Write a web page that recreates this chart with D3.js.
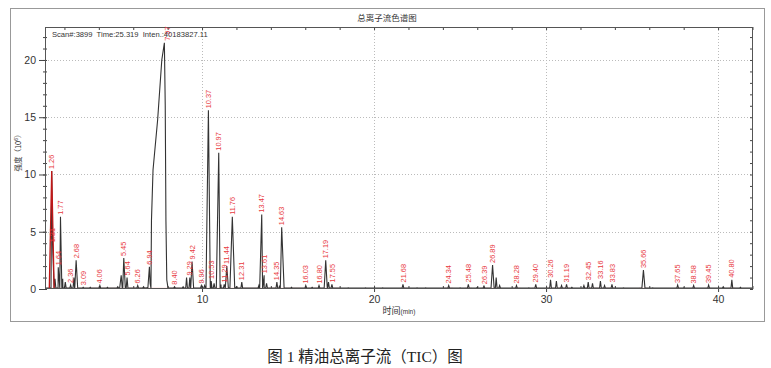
<!DOCTYPE html>
<html>
<head>
<meta charset="utf-8">
<script src="https://cdn.jsdelivr.net/npm/d3@7"></script>
<style>
  body { margin: 0; background: #fff; }
  text { font-family: "Liberation Sans", Arial, "Noto Sans CJK SC", sans-serif; }
</style>
</head>
<body>
<div id="chart"></div>
<script>
// Labelled peaks: retention time (min) and intensity (x10^6)
const peakTimes = [1.26, 1.31, 1.64, 1.77, 2.36, 2.68, 3.09, 4.06, 5.45, 5.64, 6.26, 6.94, 7.97, 8.40, 9.29, 9.42, 9.96,
  10.37, 10.53, 10.97, 11.29, 11.44, 11.76, 12.31, 13.47, 13.61, 14.35, 14.63, 16.03, 16.80, 17.19, 17.55, 21.68, 24.34,
  25.48, 26.39, 26.89, 28.28, 29.40, 30.26, 31.19, 32.45, 33.16, 33.83, 35.66, 37.65, 38.58, 39.45, 40.80];
const peakHeights = [10.3, 3.9, 1.9, 6.3, 0.35, 2.5, 0.15, 0.3, 2.7, 1.0, 0.3, 1.95, 21.5, 0.2, 1.0, 2.4, 0.3,
  15.6, 0.7, 11.9, 0.4, 2.0, 6.3, 0.6, 6.5, 1.2, 0.6, 5.4, 0.3, 0.3, 2.5, 0.4, 0.4, 0.3,
  0.4, 0.25, 2.1, 0.3, 0.4, 0.8, 0.4, 0.6, 0.7, 0.4, 1.65, 0.35, 0.3, 0.35, 0.8];
const peakLabels = peakTimes.map((t) => t.toFixed(2));

// Small unlabelled peaks along the baseline
const minorTimes = [1.45, 1.90, 2.05, 2.55, 3.50, 4.50, 5.10, 5.30, 6.60, 8.90, 9.10, 10.15, 10.70, 11.10, 12.00, 13.30,
  13.75, 14.50, 15.20, 16.40, 17.35, 18.50, 19.50, 20.50, 22.50, 23.00, 25.00, 26.00, 27.10, 27.30, 29.00, 30.60, 30.90,
  31.50, 32.20, 32.70, 33.40, 34.50, 36.20, 38.00, 40.30, 41.30];
const minorHeights = [0.9, 0.9, 0.6, 1.0, 0.15, 0.15, 0.2, 1.2, 0.2, 0.2, 1.0, 0.3, 0.5, 0.4, 0.2, 0.3,
  0.5, 0.3, 0.15, 0.15, 0.6, 0.1, 0.1, 0.1, 0.1, 0.1, 0.1, 0.15, 1.0, 0.3, 0.1, 0.7, 0.3,
  0.15, 0.3, 0.5, 0.3, 0.1, 0.1, 0.1, 0.2, 0.15];

// Outline of the overloaded main peak (7.97 min)
const bigPeakTimes = [6.80, 6.98, 7.06, 7.15, 7.42, 7.66, 7.81, 7.86, 7.90, 7.95, 8.02];
const bigPeakHeights = [0.1, 0.5, 6.0, 10.4, 14.8, 20.0, 21.5, 16.0, 6.0, 0.8, 0.1];

// Red integration baseline segments (start, end in min)
const redBaseStart = [1.15, 21.5, 24.1, 25.3, 26.2, 28.1, 29.2, 30.1, 32.3, 35.4, 37.5, 38.4, 39.3, 40.6];
const redBaseEnd = [18.0, 21.9, 24.6, 25.7, 27.4, 28.5, 29.6, 31.4, 34.0, 35.9, 37.8, 38.7, 39.6, 41.0];

const yMajor = [0, 5, 10, 15, 20];
const xMajor = [10, 20, 30, 40];

const width = 771, height = 368;
const plot = { left: 45, right: 753, top: 27, bottom: 289 };
const baseLevel = 0.08;

const svg = d3
  .select("#chart")
  .append("svg")
  .attr("width", width)
  .attr("height", height);

svg.append("rect").attr("width", width).attr("height", height).attr("fill", "#fff");

// Scales
const x = d3.scaleLinear().domain([0.87, 42.03]).range([plot.left, plot.right]);
const y = d3.scaleLinear().domain([0, 22.88]).range([plot.bottom, plot.top]);

// Outer frame and title
svg.append("rect")
  .attr("x", 10.5).attr("y", 8.5)
  .attr("width", 754).attr("height", 313)
  .attr("fill", "none").attr("stroke", "#999");

svg.append("text")
  .attr("x", 387).attr("y", 21)
  .attr("text-anchor", "middle")
  .style("font-family", "'Noto Sans CJK SC', sans-serif")
  .style("font-size", "8.5px")
  .attr("fill", "#333")
  .text("总离子流色谱图");

// Dotted grid
const grid = svg.append("g").attr("stroke", "#bbb").attr("stroke-dasharray", "1,2");
grid.selectAll("line.h").data(yMajor.slice(1)).enter().append("line")
  .attr("x1", plot.left).attr("x2", plot.right)
  .attr("y1", (d) => Math.round(y(d)) + 0.5).attr("y2", (d) => Math.round(y(d)) + 0.5);
grid.selectAll("line.v").data(xMajor).enter().append("line")
  .attr("y1", plot.top).attr("y2", plot.bottom)
  .attr("x1", (d) => Math.round(x(d)) + 0.5).attr("x2", (d) => Math.round(x(d)) + 0.5);

// Axes
const evenTicks = d3.range(2, 43, 2);
const unitTicks = d3.range(0, 23, 1);
const axisStyle = (g) => {
  g.select(".domain").remove();
  g.selectAll("line").attr("stroke", "#444");
  g.selectAll("text").attr("fill", "#333").style("font-size", "10.5px");
};

svg.append("g")
  .attr("transform", `translate(${plot.left},0)`)
  .call(d3.axisLeft(y).tickValues(yMajor).tickSize(6).tickPadding(3))
  .call(axisStyle);
svg.append("g")
  .attr("transform", `translate(${plot.left + 2},0)`)
  .call(d3.axisLeft(y).tickValues(unitTicks).tickSize(4).tickFormat(""))
  .call(axisStyle);
svg.append("g")
  .attr("transform", `translate(${plot.right},0)`)
  .call(d3.axisLeft(y).tickValues(unitTicks).tickSize(3).tickFormat(""))
  .call(axisStyle);
svg.append("g")
  .attr("transform", `translate(0,${plot.top})`)
  .call(d3.axisBottom(x).tickValues(evenTicks).tickSize(3).tickFormat(""))
  .call(axisStyle);
svg.append("g")
  .attr("transform", `translate(0,${plot.bottom})`)
  .call(d3.axisTop(x).tickValues(evenTicks).tickSize(3).tickFormat(""))
  .call(axisStyle);
svg.append("g")
  .attr("transform", `translate(0,${plot.bottom})`)
  .call(d3.axisBottom(x).tickValues(xMajor).tickSize(3).tickPadding(4))
  .call(axisStyle);

// Axis titles
svg.append("text")
  .attr("transform", "translate(21,151) rotate(-90)")
  .attr("text-anchor", "middle")
  .style("font-size", "7.5px")
  .attr("fill", "#333")
  .call((t) => {
    t.append("tspan").style("font-family", "'Noto Sans CJK SC'").text("强度（10");
    t.append("tspan").attr("dy", -3).style("font-size", "5px").text("6");
    t.append("tspan").attr("dy", 3).style("font-family", "'Noto Sans CJK SC'").text("）");
  });

svg.append("text")
  .attr("x", 399).attr("y", 314)
  .attr("text-anchor", "middle")
  .attr("fill", "#333")
  .call((t) => {
    t.append("tspan").style("font-family", "'Noto Sans CJK SC'").style("font-size", "9px").text("时间");
    t.append("tspan").style("font-size", "6.5px").text("(min)");
  });

// Build the chromatogram trace from the peak table
function halfWidth(h) {
  return h > 5 ? 0.14 : h > 1 ? 0.09 : 0.05;
}
let trace = [[0.87, baseLevel], [42.03, baseLevel]];
const addPeak = (t, h) => {
  const w = halfWidth(h);
  trace.push([t - w, baseLevel], [t, h], [t + w, baseLevel]);
};
peakTimes.forEach((t, i) => {
  if (t === 7.97) return;
  addPeak(t, peakHeights[i]);
});
minorTimes.forEach((t, i) => addPeak(t, minorHeights[i]));
bigPeakTimes.forEach((t, i) => trace.push([t, bigPeakHeights[i]]));
trace.sort((a, b) => a[0] - b[0]);

const line = d3.line().x((d) => x(d[0])).y((d) => y(d[1]));

svg.append("clipPath").attr("id", "clip")
  .append("rect")
  .attr("x", plot.left).attr("y", plot.top)
  .attr("width", plot.right - plot.left).attr("height", plot.bottom - plot.top);

const area = svg.append("g").attr("clip-path", "url(#clip)");

// Red integration baseline
area.selectAll("line.base").data(redBaseStart).enter().append("line")
  .attr("x1", (d) => x(d))
  .attr("x2", (d, i) => x(redBaseEnd[i]))
  .attr("y1", y(0.05)).attr("y2", y(0.05))
  .attr("stroke", "#e02020").attr("stroke-width", 1);

area.append("path")
  .datum(trace)
  .attr("d", line)
  .attr("fill", "none")
  .attr("stroke", "#333")
  .attr("stroke-width", 1.1);

// First peak is highlighted in red
const firstW = halfWidth(peakHeights[0]);
area.append("path")
  .datum([[peakTimes[0] - firstW, baseLevel], [peakTimes[0], peakHeights[0]], [peakTimes[0] + firstW, baseLevel]])
  .attr("d", line)
  .attr("fill", "none")
  .attr("stroke", "#c01818")
  .attr("stroke-width", 1.3);

// Plot border
svg.append("rect")
  .attr("x", plot.left + 0.5).attr("y", plot.top + 0.5)
  .attr("width", plot.right - plot.left - 1).attr("height", plot.bottom - plot.top - 1)
  .attr("fill", "none").attr("stroke", "#555");

// Peak retention time labels
svg.append("g")
  .selectAll("text")
  .data(peakLabels)
  .enter()
  .append("text")
  .attr("transform", (d, i) => `translate(${x(peakTimes[i])},${y(peakHeights[i]) - 2}) rotate(-90)`)
  .attr("dy", "0.35em")
  .style("font-size", "7.4px")
  .attr("fill", "#e8383d")
  .text((d) => d);

// Scan info
svg.append("text")
  .attr("x", 52).attr("y", 37)
  .style("font-size", "7.6px")
  .attr("fill", "#333")
  .attr("xml:space", "preserve")
  .text("Scan#:3899  Time:25.319  Inten.:40183827.11");

// Figure caption
svg.append("text")
  .attr("x", 365).attr("y", 362)
  .attr("text-anchor", "middle")
  .style("font-family", "'Liberation Serif', 'Noto Sans CJK SC', serif")
  .style("font-size", "15.5px")
  .attr("fill", "#222")
  .text("图 1 精油总离子流（TIC）图");
</script>
</body>
</html>
